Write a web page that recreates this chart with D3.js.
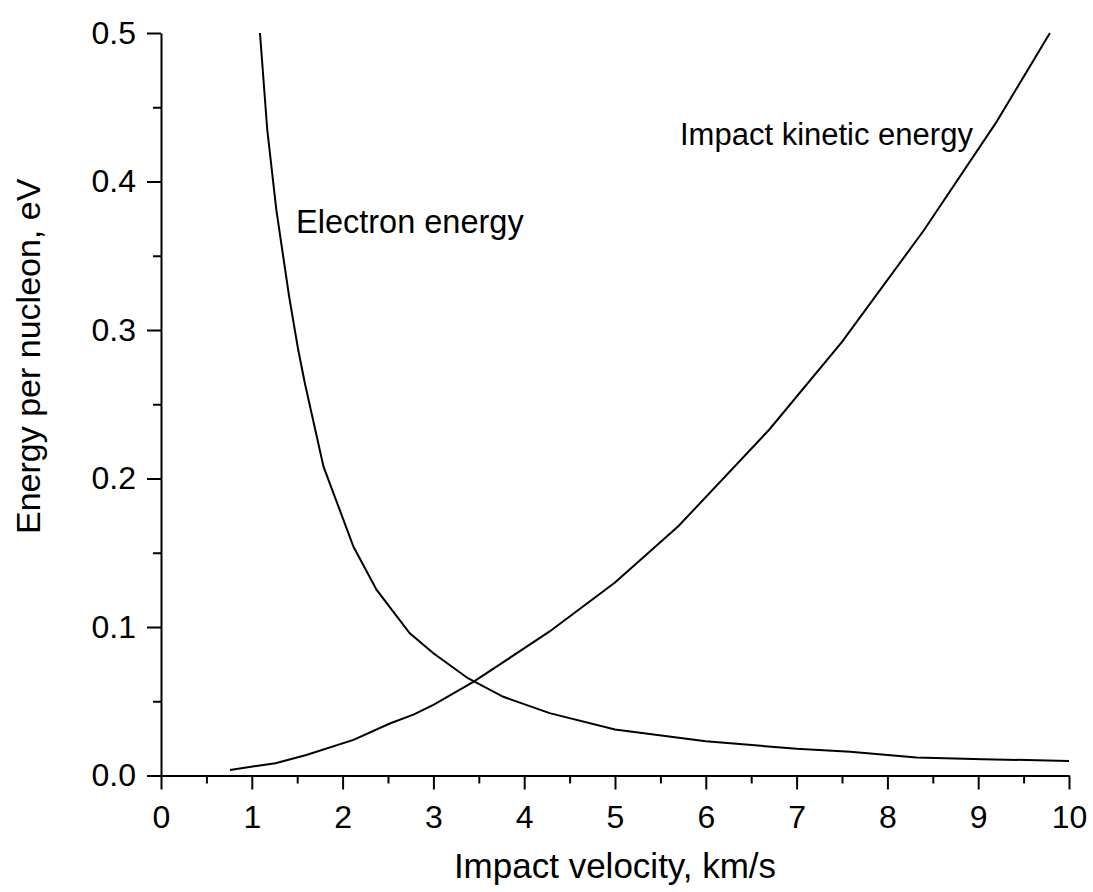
<!DOCTYPE html>
<html>
<head>
<meta charset="utf-8">
<script src="https://cdn.jsdelivr.net/npm/d3@7"></script>
<style>
  html, body { margin: 0; padding: 0; background: #fff; }
  svg { display: block; }
  text { font-family: "Liberation Sans", Arial, sans-serif; fill: #000; }
</style>
</head>
<body>
<svg id="chart" width="1093" height="892"></svg>
<script>
// Data
const electronX = [1.09, 1.17, 1.27, 1.41, 1.51, 1.585, 1.79, 2.12, 2.375, 2.74, 3.0, 3.38, 3.77, 4.28, 5.0, 6.0, 7.0, 7.59, 8.32, 9.05, 10.0];
const electronY = [0.5, 0.435, 0.381, 0.323, 0.287, 0.264, 0.208, 0.154, 0.125, 0.0958, 0.0823, 0.0655, 0.053, 0.042, 0.031, 0.023, 0.018, 0.016, 0.0122, 0.011, 0.0098];
const kineticX = [0.76, 1.05, 1.26, 1.6, 2.12, 2.52, 2.78, 3.0, 3.44, 4.28, 5.0, 5.7, 6.7, 7.5, 8.4, 9.2, 9.79];
const kineticY = [0.0037, 0.0064, 0.0082, 0.0138, 0.024, 0.035, 0.041, 0.0475, 0.063, 0.097, 0.130, 0.168, 0.233, 0.292, 0.367, 0.44, 0.5];
const xTicks = [0, 1, 2, 3, 4, 5, 6, 7, 8, 9, 10];
const xMinor = [0.5, 1.5, 2.5, 3.5, 4.5, 5.5, 6.5, 7.5, 8.5, 9.5];
const yTicks = [0.0, 0.1, 0.2, 0.3, 0.4, 0.5];
const yMinor = [0.05, 0.15, 0.25, 0.35, 0.45];
const xTitle = "Impact velocity, km/s";
const yTitle = "Energy per nucleon, eV";
const labelElectron = "Electron energy";
const labelKinetic = "Impact kinetic energy";

const svg = d3.select("#chart");
const x = d3.scaleLinear().domain([0, 10]).range([161, 1069]);
const y = d3.scaleLinear().domain([0, 0.5]).range([775.5, 33]);

// minor ticks
svg.append("g").attr("transform", `translate(0,${y(0)})`)
  .call(d3.axisBottom(x).tickValues(xMinor).tickSize(8).tickFormat(""))
  .call(g => g.select(".domain").remove())
  .call(g => g.selectAll("line").attr("stroke", "#000").attr("stroke-width", 2));
svg.append("g").attr("transform", `translate(${x(0)},0)`)
  .call(d3.axisLeft(y).tickValues(yMinor).tickSize(8).tickFormat(""))
  .call(g => g.select(".domain").remove())
  .call(g => g.selectAll("line").attr("stroke", "#000").attr("stroke-width", 2));

// major axes
const xAxis = svg.append("g").attr("transform", `translate(0,${y(0)})`)
  .call(d3.axisBottom(x).tickValues(xTicks).tickSize(14).tickSizeOuter(0).tickPadding(16).tickFormat(d3.format("d")));
const yAxis = svg.append("g").attr("transform", `translate(${x(0)},0)`)
  .call(d3.axisLeft(y).tickValues(yTicks).tickSize(14).tickSizeOuter(0).tickPadding(11).tickFormat(d3.format(".1f")));
[xAxis, yAxis].forEach(g => {
  g.select(".domain").attr("stroke", "#000").attr("stroke-width", 2);
  g.selectAll(".tick line").attr("stroke", "#000").attr("stroke-width", 2);
  g.selectAll(".tick text").attr("font-size", 32).attr("font-family", "Liberation Sans, Arial, sans-serif").attr("fill", "#000");
});

// curves
const line = d3.line().x(d => x(d[0])).y(d => y(d[1]));
svg.append("path").datum(electronX.map((v, i) => [v, electronY[i]]))
  .attr("d", line).attr("fill", "none").attr("stroke", "#000").attr("stroke-width", 2);
svg.append("path").datum(kineticX.map((v, i) => [v, kineticY[i]]))
  .attr("d", line).attr("fill", "none").attr("stroke", "#000").attr("stroke-width", 2);

// curve labels
svg.append("text").attr("x", 296).attr("y", 233).attr("font-size", 32.5).text(labelElectron);
svg.append("text").attr("x", 680).attr("y", 145).attr("font-size", 31).text(labelKinetic);

// axis titles
svg.append("text").attr("x", (x(0) + x(10)) / 2).attr("y", 878)
  .attr("text-anchor", "middle").attr("font-size", 35).text(xTitle);
svg.append("text").attr("transform", "translate(40,534) rotate(-90)")
  .attr("text-anchor", "start").attr("font-size", 34).text(yTitle);
</script>
</body>
</html>
